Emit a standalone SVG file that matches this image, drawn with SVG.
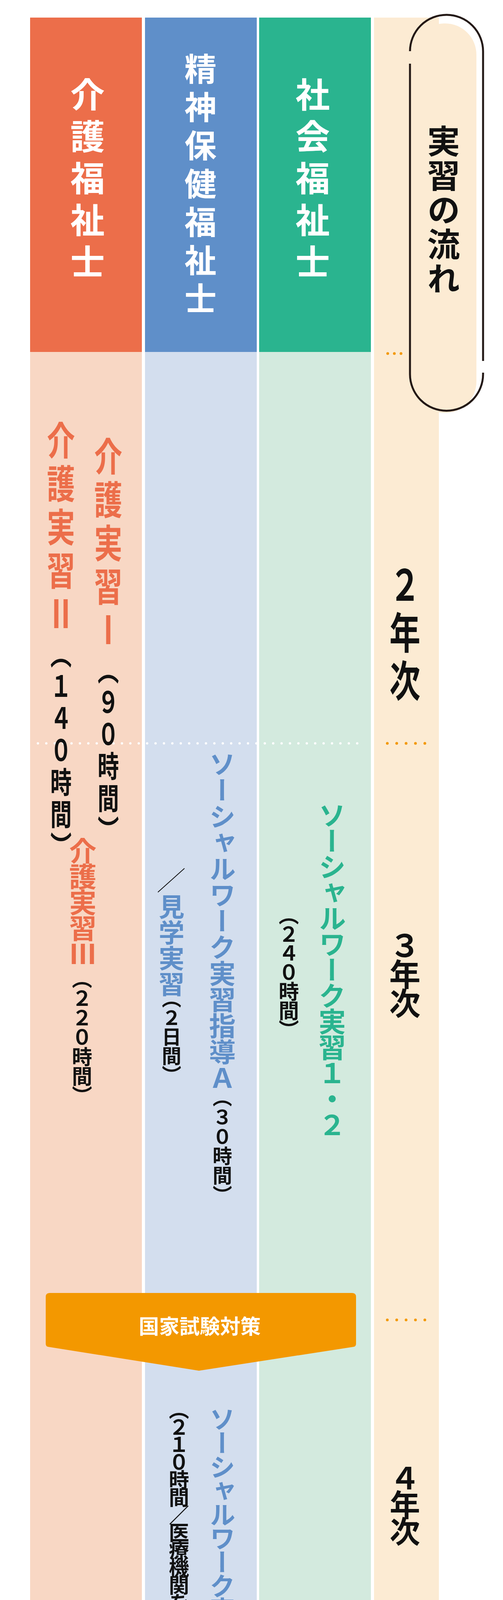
<svg xmlns="http://www.w3.org/2000/svg" width="1287" height="4948" viewBox="0 0 1287 4948">
<style>
.v{writing-mode:vertical-rl;text-orientation:upright;font-family:"Noto Sans CJK JP","Noto Sans",sans-serif;font-weight:700}
.w{fill:#fff}.k{fill:#111}.o{fill:#EC6E4A}.b{fill:#5F8FC9}.g{fill:#2AB48F}
.od{fill:#F39800}.wd{fill:#fff}
</style>
<rect width="1287" height="4948" fill="#fff"/>
<g id="columns">
<polygon points="77,901 363,901 363,4523 77,4441" fill="#F8D7C4"/>
<polygon points="371,901 657,901 657,4519 497,4556 371,4529" fill="#D3DEEE"/>
<polygon points="663,901 949,901 949,4441 663,4515" fill="#D3EADE"/>
<polygon points="957,45 1123,45 1123,4400 957,4441" fill="#FCEBD3"/>
<rect x="1057" y="60" width="162" height="997" rx="80" fill="#FCEBD3"/>
<rect x="77" y="45" width="286" height="856" fill="#EC6E4A"/>
<rect x="371" y="45" width="286" height="856" fill="#5F8FC9"/>
<rect x="663" y="45" width="286" height="856" fill="#2AB48F"/>
</g>
<g id="header-kaigo"><text class="v w" x="224" y="198" font-size="88" letter-spacing="19">介護福祉士</text></g>
<g id="header-seishin"><text class="v w" x="513" y="135" font-size="82" letter-spacing="16">精神保健福祉士</text></g>
<g id="header-shakai"><text class="v w" x="800" y="198" font-size="88" letter-spacing="19">社会福祉士</text></g>
<g id="header-flow">
<path d="M1049,131 A93.5,93.5 0 0 1 1236,132 L1236,924" fill="none" stroke="#231815" stroke-width="5"/>
<path d="M1236,954 L1236,958 A93.5,93.5 0 0 1 1049,958 L1049,163" fill="none" stroke="#231815" stroke-width="5"/>
<text class="v k" x="1135" y="319" font-size="84" letter-spacing="4">実習の流れ</text>
</g>
<g id="dots">
<g class="od"><circle cx="992" cy="905" r="3.5"/><circle cx="1009" cy="905" r="3.5"/><circle cx="1026" cy="905" r="3.5"/></g>
<g class="od"><circle cx="991" cy="1903" r="3.5"/><circle cx="1015" cy="1903" r="3.5"/><circle cx="1039" cy="1903" r="3.5"/><circle cx="1063" cy="1903" r="3.5"/><circle cx="1087" cy="1903" r="3.5"/></g>
<g class="od"><circle cx="991" cy="3379" r="3.5"/><circle cx="1015" cy="3379" r="3.5"/><circle cx="1039" cy="3379" r="3.5"/><circle cx="1063" cy="3379" r="3.5"/><circle cx="1087" cy="3379" r="3.5"/></g>
<line x1="97" y1="1903" x2="915" y2="1903" stroke="#fff" stroke-width="6" stroke-linecap="round" stroke-dasharray="0 21.5"/>
</g>
<g id="kaigo2"><g transform="translate(156 0) scale(0.72 1)"><text class="v o" x="0" y="1077" font-size="100" letter-spacing="11">介護実習Ⅱ</text><text class="v k" x="0" y="1636" font-size="76" letter-spacing="6">（１４０時間）</text></g></g>
<g id="kaigo1"><g transform="translate(277 0) scale(0.72 1)"><text class="v o" x="0" y="1118" font-size="100" letter-spacing="11">介護実習Ⅰ</text><text class="v k" x="0" y="1677" font-size="76" letter-spacing="6">（９０時間）</text></g></g>
<g id="year2"><g transform="translate(1036 0) scale(0.72 1)"><text class="v k" x="0" y="1441" font-size="110" letter-spacing="13">２年次</text></g></g>
<g id="kaigo3"><text class="v o" x="212" y="2143" font-size="70" letter-spacing="-4">介護実習Ⅲ</text><text class="v k" x="210" y="2479" font-size="52" letter-spacing="-2">（２２０時間）</text></g>
<g id="sw-shido"><text class="v b" x="569" y="1922" font-size="68" letter-spacing="-1">ソーシャルワーク実習指導Ａ</text><text class="v k" x="569" y="2784" font-size="50" letter-spacing="0">（３０時間）</text></g>
<g id="kengaku"><line x1="472" y1="2223" x2="404" y2="2284" stroke="#111" stroke-width="2"/><text class="v b" x="439" y="2288" font-size="66" letter-spacing="0">見学実習</text><text class="v k" x="439" y="2531" font-size="50" letter-spacing="-1">（２日間）</text></g>
<g id="sw12"><text class="v g" x="850" y="2052" font-size="70" letter-spacing="-4">ソーシャルワーク実習１・２</text><text class="v k" x="739" y="2316" font-size="52" letter-spacing="-3">（２４０時間）</text></g>
<g id="year3"><text class="v k" x="1036" y="2380" font-size="80" letter-spacing="-6">３年次</text></g>
<g id="exam"><path d="M127,3310 L901,3310 Q911,3310 911,3320 L911,3440 Q911,3447 904,3448 L509,3509 L124,3448 Q117,3447 117,3440 L117,3320 Q117,3310 127,3310 Z" fill="#F39800"/><text x="511" y="3415" font-size="52" font-family="Noto Sans CJK JP,sans-serif" font-weight="700" fill="#fff" text-anchor="middle">国家試験対策</text></g>
<g id="swab"><text class="v b" x="569" y="3600" font-size="66" letter-spacing="-5">ソーシャルワーク実習Ａ・Ｂ</text><text class="v k" x="458" y="3582" font-size="52" letter-spacing="-7">（２１０時間／医療機関を含む２施設）</text></g>
<g id="year4"><text class="v k" x="1036" y="3745" font-size="78" letter-spacing="-10">４年次</text></g>
</svg>
